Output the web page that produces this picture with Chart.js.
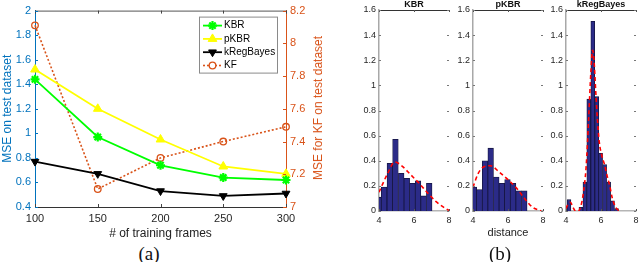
<!DOCTYPE html>
<html><head><meta charset="utf-8">
<script src="https://cdn.jsdelivr.net/npm/chart.js@4.4.1/dist/chart.umd.min.js"></script>
<style>
body{margin:0;background:#fff;}
#wrap{position:relative;width:640px;height:262px;overflow:hidden;background:#fff;font-family:"Liberation Sans",Arial,sans-serif;}
canvas{position:absolute;top:0;}
.t{position:absolute;white-space:nowrap;line-height:1;transform:translate(-50%,-50%);}
.ht{font-weight:bold;font-size:9px;color:#111;}
</style></head><body>
<div id="wrap">
<canvas id="cA" width="330" height="242" style="left:0"></canvas>
<canvas id="h0" width="108" height="226" style="left:349px"></canvas>
<canvas id="h1" width="108" height="226" style="left:443px"></canvas>
<canvas id="h2" width="108" height="226" style="left:536px"></canvas>
<div class="t" style="left:318px;top:108px;font-size:12px;color:#D95319;transform:translate(-50%,-50%) rotate(-90deg);">MSE for KF on test dataset</div>
<div class="t" style="left:149px;top:253px;font-family:'Liberation Serif',serif;font-size:19px;color:#111;">(a)</div>
<div class="t" style="left:500px;top:253px;font-family:'Liberation Serif',serif;font-size:19px;color:#111;">(b)</div>
<div class="t" style="left:508px;top:232px;font-size:11px;color:#222;">distance</div>
<div class="t ht" style="left:414px;top:4px;">KBR</div>
<div class="t ht" style="left:508px;top:4px;">pKBR</div>
<div class="t ht" style="left:601px;top:4px;">kRegBayes</div>
</div>
<script>
// ---- (a) MSE vs training frames ----
const frames = [100, 150, 200, 250, 300];
const kbrMSE = [1.44, 0.97, 0.74, 0.64, 0.62];
const pkbrMSE = [1.52, 1.20, 0.95, 0.73, 0.67];
const kregMSE = [0.77, 0.67, 0.53, 0.49, 0.51];
const kfMSE = [8.11, 7.11, 7.30, 7.40, 7.49];
const mseTicks = [0.4, 0.6, 0.8, 1, 1.2, 1.4, 1.6, 1.8, 2];
const kfTicks = [7, 7.2, 7.4, 7.6, 7.8, 8, 8.2];

// ---- (b) histograms of distance ----
const distTicks = [4, 6, 8];
const densTicks = [0, 0.2, 0.4, 0.6, 0.8, 1, 1.2, 1.4, 1.6];
const kbrBins = [3.97, 4.29, 4.62, 4.94, 5.27, 5.59, 5.91, 6.23, 6.55, 6.87];
const kbrDens = [0.11, 0.19, 0.38, 0.57, 0.30, 0.26, 0.22, 0.24, 0.12, 0.22];
const kbrFitX = [4, 4.5, 4.9, 5.3, 5.8, 6.3, 6.8, 7.3, 7.8, 8];
const kbrFitY = [0.15, 0.30, 0.39, 0.36, 0.29, 0.22, 0.14, 0.07, 0.02, 0.005];
const pkbrBins = [4.05, 4.37, 4.69, 5.01, 5.33, 5.65, 5.97, 6.29, 6.61, 6.93];
const pkbrDens = [0.19, 0.17, 0.40, 0.50, 0.27, 0.22, 0.25, 0.22, 0.16, 0.16];
const pkbrFitX = [4, 4.3, 4.6, 5.0, 5.5, 6.0, 6.5, 7.0, 7.4, 7.9];
const pkbrFitY = [0.19, 0.30, 0.35, 0.36, 0.31, 0.25, 0.18, 0.09, 0.03, 0.0];
const kregBins = [3.94, 4.17, 4.40, 4.62, 4.85, 5.08, 5.30, 5.53, 5.76, 5.98, 6.21, 6.44, 6.66, 6.89];
const kregDens = [0.02, 0.09, 0, 0, 0.03, 0.23, 0.89, 1.51, 0.91, 0.46, 0.37, 0.23, 0.08, 0.02];
const kregFitX = [4, 4.1, 4.25, 4.4, 4.55, 4.7, 4.85, 5.0, 5.15, 5.3, 5.42, 5.52, 5.6, 5.7, 5.8, 5.9, 6.05, 6.2, 6.35, 6.5, 6.65, 6.8, 6.95, 7.1];
const kregFitY = [0.02, 0.05, 0.07, 0.03, 0, 0, 0.04, 0.15, 0.35, 0.75, 1.1, 1.28, 1.2, 0.95, 0.72, 0.55, 0.44, 0.37, 0.28, 0.2, 0.1, 0.04, 0.01, 0];

const fmt = v => String(+(+v).toFixed(1));
const setTicks = arr => s => { s.ticks = arr.map(v => ({value: v})); };

const inTicks = {
  id: 'inTicks',
  afterDatasetsDraw(chart, args, o) {
    const {ctx, chartArea: a} = chart;
    const L = o.len || 3;
    ctx.save();
    ctx.lineWidth = 1;
    if (o.top) { ctx.strokeStyle = o.top; ctx.beginPath(); ctx.moveTo(a.left, a.top + 0.5); ctx.lineTo(a.right, a.top + 0.5); ctx.stroke(); }
    const x = chart.scales.x;
    ctx.strokeStyle = o.xColor || '#333';
    x.ticks.forEach((t, i) => {
      const px = Math.round(x.getPixelForTick(i)) + 0.5;
      ctx.beginPath(); ctx.moveTo(px, a.bottom); ctx.lineTo(px, a.bottom - L);
      ctx.moveTo(px, a.top); ctx.lineTo(px, a.top + L); ctx.stroke();
    });
    (o.ys || []).forEach(([id, color, sides]) => {
      const s = chart.scales[id];
      ctx.strokeStyle = color;
      s.ticks.forEach((t, i) => {
        const py = Math.round(s.getPixelForTick(i)) + 0.5;
        ctx.beginPath();
        if (sides.includes('l')) { ctx.moveTo(a.left, py); ctx.lineTo(a.left + L, py); }
        if (sides.includes('r')) { ctx.moveTo(a.right, py); ctx.lineTo(a.right - L, py); }
        ctx.stroke();
      });
    });
    ctx.restore();
  }
};

const inLegend = {
  id: 'inLegend',
  afterDraw(chart, args, o) {
    if (!o.show) return;
    const {ctx, chartArea: a} = chart;
    const x0 = a.right - o.dxRight, y0 = a.top + o.dyTop, w = o.w, h = o.h;
    ctx.save();
    ctx.fillStyle = '#fff'; ctx.fillRect(x0, y0, w, h);
    ctx.strokeStyle = '#8a8a8a'; ctx.lineWidth = 1; ctx.strokeRect(x0 + 0.5, y0 + 0.5, w, h);
    ctx.font = '10px "Liberation Sans", Arial, sans-serif'; ctx.textBaseline = 'middle';
    chart.data.datasets.forEach((ds, i) => {
      const y = y0 + 9 + i * 13.3;
      ctx.strokeStyle = ds.borderColor; ctx.lineWidth = ds.borderWidth; ctx.setLineDash(ds.borderDash || []);
      ctx.beginPath(); ctx.moveTo(x0 + 4, y); ctx.lineTo(x0 + 23, y); ctx.stroke();
      ctx.setLineDash([]);
      ctx.fillStyle = ds.pointBackgroundColor === 'rgba(0,0,0,0)' ? '#fff' : ds.pointBackgroundColor;
      ctx.strokeStyle = ds.pointBorderColor; ctx.lineWidth = ds.pointBorderWidth;
      if (Chart.helpers && Chart.helpers.drawPoint) {
        Chart.helpers.drawPoint(ctx, {pointStyle: ds.pointStyle, rotation: ds.pointRotation || 0, radius: ds.pointRadius, borderWidth: ds.pointBorderWidth}, x0 + 13.5, y);
      }
      ctx.fillStyle = '#000'; ctx.fillText(ds.label, x0 + 25, y);
    });
    ctx.restore();
  }
};

const BLUE = '#0072BD', ORANGE = '#D95319';

new Chart(document.getElementById('cA'), {
  type: 'line',
  data: {
    labels: frames,
    datasets: [
      {label: 'KBR', data: kbrMSE, yAxisID: 'y', borderColor: '#00FF00', borderWidth: 1.8, pointStyle: 'star', pointRadius: 4.5, pointBorderWidth: 2.2, pointBackgroundColor: '#00FF00', pointBorderColor: '#00FF00'},
      {label: 'pKBR', data: pkbrMSE, yAxisID: 'y', borderColor: '#FFFF00', borderWidth: 1.8, pointStyle: 'triangle', pointRadius: 5, pointBorderWidth: 1, pointBackgroundColor: '#FFFF00', pointBorderColor: '#FFFF00'},
      {label: 'kRegBayes', data: kregMSE, yAxisID: 'y', borderColor: '#000000', borderWidth: 1.8, pointStyle: 'triangle', pointRotation: 180, pointRadius: 4.5, pointBorderWidth: 1, pointBackgroundColor: '#000000', pointBorderColor: '#000000'},
      {label: 'KF', data: kfMSE, yAxisID: 'y2', borderColor: ORANGE, borderWidth: 1.6, borderDash: [2, 2], pointStyle: 'circle', pointRadius: 3.3, pointBorderWidth: 1.3, pointBackgroundColor: 'rgba(0,0,0,0)', pointBorderColor: ORANGE}
    ]
  },
  options: {
    responsive: false, animation: false,
    layout: {padding: {top: 10, left: 0, right: 0, bottom: 0}},
    elements: {line: {tension: 0}},
    plugins: {
      legend: {display: false}, tooltip: {enabled: false},
      inTicks: {top: '#555', xColor: '#444', len: 3, ys: [['y', BLUE, 'l'], ['y2', ORANGE, 'r']]},
      inLegend: {show: true, dxRight: 87, dyTop: 6, w: 78, h: 56}
    },
    scales: {
      x: {
        type: 'category', offset: false,
        grid: {display: false, drawTicks: false},
        border: {color: '#333', width: 1},
        ticks: {color: '#262626', font: {size: 11, family: '"Liberation Sans", Arial'}, padding: 5, maxRotation: 0, autoSkip: false},
        title: {display: true, text: '# of training frames', color: '#222', font: {size: 12, family: '"Liberation Sans", Arial'}, padding: {top: 0, bottom: 1}},
        afterFit: s => { s.height = 35; }
      },
      y: {
        position: 'left', min: 0.4, max: 2,
        grid: {display: false, drawTicks: false},
        border: {color: BLUE, width: 1},
        ticks: {color: BLUE, font: {size: 11, family: '"Liberation Sans", Arial'}, padding: 4, callback: fmt},
        afterBuildTicks: setTicks(mseTicks),
        title: {display: true, text: 'MSE on test dataset', color: BLUE, font: {size: 12, family: '"Liberation Sans", Arial'}, padding: 0},
        afterFit: s => { s.width = 35; }
      },
      y2: {
        position: 'right', min: 7, max: 8.2,
        grid: {display: false, drawTicks: false},
        border: {color: ORANGE, width: 1},
        ticks: {color: ORANGE, font: {size: 11, family: '"Liberation Sans", Arial'}, padding: 4, callback: fmt},
        afterBuildTicks: setTicks(kfTicks),
        afterFit: s => { s.width = 44; }
      }
    }
  },
  plugins: [inTicks, inLegend]
});

function histChart(id, bins, dens, fitX, fitY) {
  new Chart(document.getElementById(id), {
    type: 'bar',
    data: {
      datasets: [
        {type: 'line', data: fitX.map((x, i) => ({x: x, y: fitY[i]})), borderColor: '#FF0000', borderWidth: 1.6, borderDash: [4, 3], pointRadius: 0, cubicInterpolationMode: 'monotone', order: 0, clip: 0},
        {type: 'bar', data: bins.map((x, i) => ({x: x, y: dens[i]})), backgroundColor: '#2B2B88', borderColor: '#15153f', borderWidth: 0.8, borderSkipped: 'start', barPercentage: 1, categoryPercentage: 1, order: 1, clip: 0}
      ]
    },
    options: {
      responsive: false, animation: false,
      layout: {padding: {top: 10, right: 8, left: 0, bottom: 0}},
      plugins: {
        legend: {display: false}, tooltip: {enabled: false},
        inTicks: {top: '#333', xColor: '#555', len: 2, ys: [['y', '#777', 'lr']]}
      },
      scales: {
        x: {
          type: 'linear', min: 4, max: 8, offset: false,
          grid: {display: false, drawTicks: false},
          border: {color: '#b5b5b5', width: 1.5},
          ticks: {color: '#262626', font: {size: 9, family: '"Liberation Sans", Arial'}, padding: 4, maxRotation: 0, callback: fmt},
          afterBuildTicks: setTicks(distTicks),
          afterFit: s => { s.height = 15; }
        },
        y: {
          min: 0, max: 1.6,
          grid: {display: false, drawTicks: false},
          border: {color: '#a8a8a8', width: 1.5},
          ticks: {color: '#262626', font: {size: 9, family: '"Liberation Sans", Arial'}, padding: 3, callback: fmt},
          afterBuildTicks: setTicks(densTicks),
          afterFit: s => { s.width = 30; }
        }
      }
    },
    plugins: [inTicks]
  });
}
histChart('h0', kbrBins, kbrDens, kbrFitX, kbrFitY);
histChart('h1', pkbrBins, pkbrDens, pkbrFitX, pkbrFitY);
histChart('h2', kregBins, kregDens, kregFitX, kregFitY);
</script>
</body></html>
